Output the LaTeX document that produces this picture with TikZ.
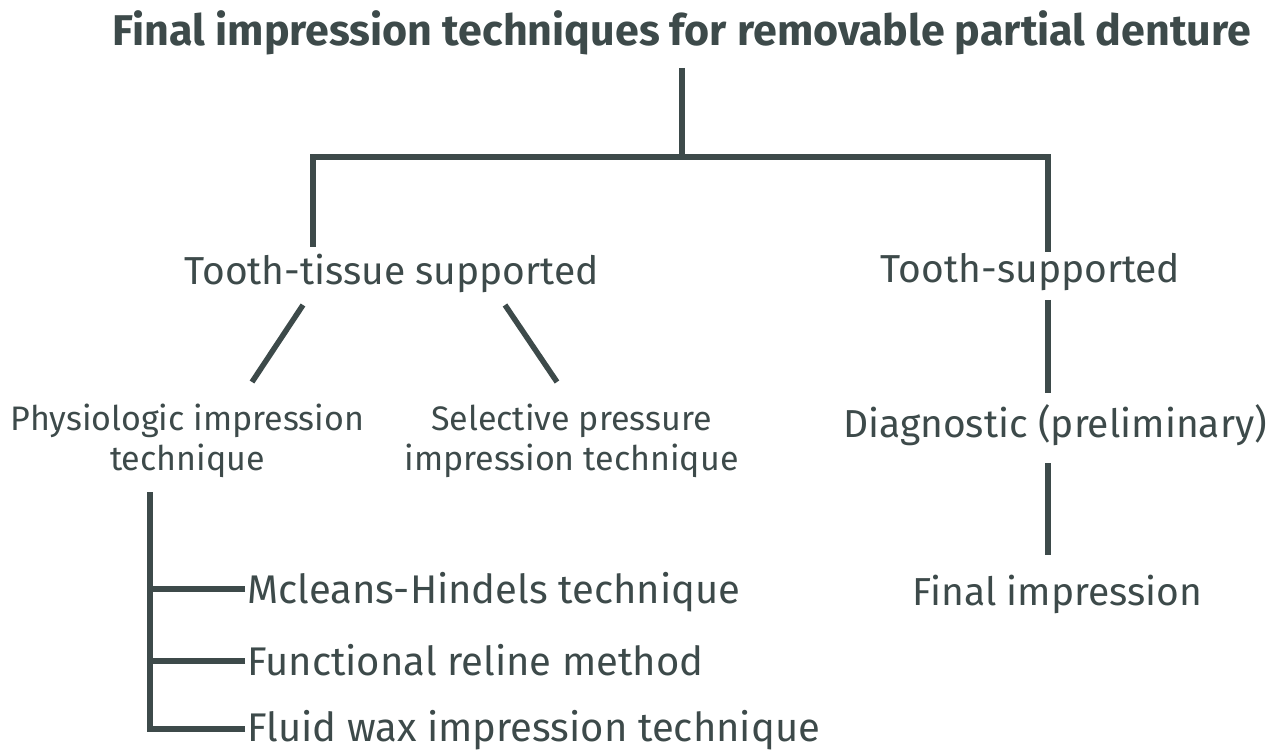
\documentclass[tikz,border=0pt]{standalone}
\usepackage{fontspec}
\setmainfont{Fira Sans}
\usepackage{xcolor}
\usepackage{tikz}
\usetikzlibrary{positioning}

\definecolor{slate}{HTML}{3D4A4A}

\begin{document}
\begin{tikzpicture}[
    x=1pt, y=-1pt,
    every node/.style = {text=slate, inner sep=0pt},
    heading/.style = {anchor=base,
                      font=\fontsize{43}{50}\selectfont\bfseries},
    branch/.style  = {anchor=base,
                      font=\fontsize{39}{46}\selectfont},
    method/.style  = {align=center,
                      font=\fontsize{34}{40}\selectfont},
    item/.style    = {anchor=base west,
                      font=\fontsize{40}{46}\selectfont},
    link/.style    = {draw=slate, line width=5.5pt}
]
\useasboundingbox (0,0) rectangle (1282,751);

%% Title
\node[heading] (title) at (682,46)
    {Final impression techniques for removable partial denture};

%% Support types
\node[branch] (tts) at (391.5,284) {Tooth-tissue supported};
\node[branch] (ts)  at (1030.5,283) {Tooth-supported};

%% Tooth-tissue supported techniques
\node[method] (phys) at (187.5,441)
    {Physiologic impression\\technique};
\node[method] (sel)  at (571.5,441)
    {Selective pressure\\impression technique};

%% Tooth-supported steps
\node[branch] (diag) at (1055,437) {Diagnostic (preliminary)};
\node[branch] (fin)  at (1057.5,605) {Final impression};

%% Physiologic variants
\node[item] (mc) at (247,603) {Mcleans-Hindels technique};
\node[item, below=72pt of mc.base west, anchor=base west] (fr)
    {Functional reline method};
\node[item, below=66pt of fr.base west, anchor=base west] (fw)
    {Fluid wax impression technique};

%% Links
\coordinate (fork) at (682,157);
\draw[link] ([yshift=-22pt]title.base) -- (fork);
\draw[link] ([xshift=-78.5pt,yshift=37pt]tts.base) |- (fork)
    -| ([xshift=17.5pt,yshift=31pt]ts.base);
\draw[link] (tts.base) ++(-88.5,21) -- ++(-51,77);
\draw[link] (tts.base) ++(113.5,21) -- ++(52,77);
\draw[link] (ts.base) ++(17.5,17) -- ++(0,93);
\draw[link] (diag.base) ++(-7,26) -- ++(0,92);
\draw[link] (fw.base west) ++(-2,-12) -| ++(-95,-237);
\draw[link] (mc.base west) ++(-2,-14) -- ++(-95,0);
\draw[link] (fr.base west) ++(-2,-14) -- ++(-95,0);
\end{tikzpicture}
\end{document}
